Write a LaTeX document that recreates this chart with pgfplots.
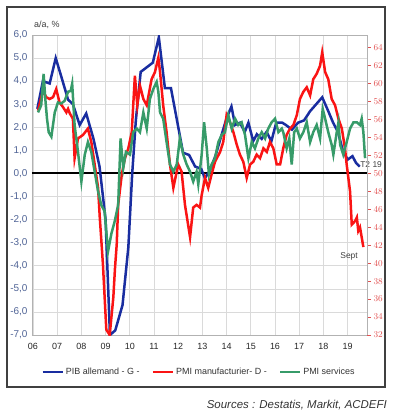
\documentclass[border=0pt]{standalone}
\usepackage{fontspec}
\setmainfont{Liberation Sans}
\usepackage{pgfplots}
\pgfplotsset{compat=1.18}
\definecolor{cblue}{RGB}{25,45,160}
\definecolor{cred}{RGB}{250,20,20}
\definecolor{cgreen}{RGB}{55,155,105}
\definecolor{ltick}{RGB}{80,100,150}
\definecolor{rtick}{RGB}{225,80,80}
\definecolor{gridc}{RGB}{218,218,218}
\begin{document}
\begin{tikzpicture}[x=1bp,y=1bp]
\useasboundingbox (0,0) rectangle (396,418);
\draw[line width=1.5bp, black!75] (7,31) rectangle (385,411);
\node[anchor=west, text=black!75, font=\fontsize{9}{10}\selectfont, inner sep=0pt] at (34,393) {a/a, \%};
\node[anchor=east, text=black!80, font=\fontsize{11.5}{13}\selectfont\itshape, inner sep=0pt] at (387,13) {Sources : Destatis, Markit, ACDEFI};
\begin{axis}[at={(32bp,83bp)}, anchor=south west, scale only axis, width=335bp, height=300bp,
  xmin=2005.96, xmax=2019.8, ymin=-7, ymax=6,
  xtick={2006,...,2019},
  xticklabels={06,07,08,09,10,11,12,13,14,15,16,17,18,19},
  ytick={-7,...,6},
  xtick pos=bottom, ytick pos=left,
  grid=major, major grid style={gridc, line width=0.6bp},
  axis line style={black!30},
  major tick length=0pt,
  xticklabel style={text=black!85, font=\fontsize{9}{10}\selectfont, yshift=-5bp},
  yticklabel style={text=ltick, font=\fontsize{10}{11}\selectfont,
    /pgf/number format/fixed, /pgf/number format/fixed zerofill,
    /pgf/number format/precision=1, /pgf/number format/use comma,
    /pgf/number format/assume math mode=true, xshift=-1bp},
  clip mode=individual,
]
\draw[black, line width=2bp] (axis cs:2005.96,0) -- (axis cs:2019.8,0);
\addplot[cblue, line width=2.5bp] coordinates {
(2006.18,2.8) (2006.41,4.0) (2006.69,3.9) (2006.94,5.0) (2007.17,4.2) (2007.45,3.2)
(2007.65,3.0) (2007.93,2.1) (2008.2,2.6) (2008.5,1.5) (2008.75,0.3) (2009.0,-2.0)
(2009.18,-7.0) (2009.4,-6.8) (2009.7,-5.7) (2009.94,-3.2) (2010.1,0.0) (2010.25,2.3)
(2010.45,4.4) (2010.7,4.6) (2010.95,4.8) (2011.2,5.9) (2011.45,3.7) (2011.7,3.7)
(2011.95,2.3) (2012.2,0.9) (2012.45,0.8) (2012.7,0.3) (2012.95,0.2) (2013.1,-0.2)
(2013.3,0.1) (2013.55,0.8) (2013.8,1.7) (2014.0,2.4) (2014.2,2.9) (2014.35,2.1)
(2014.55,2.2) (2014.75,1.8) (2014.9,2.2) (2015.1,1.4) (2015.25,1.7) (2015.45,1.5)
(2015.65,1.8) (2015.85,1.4) (2016.05,2.2) (2016.3,2.2) (2016.45,2.1) (2016.7,1.9)
(2016.95,2.2) (2017.2,2.3) (2017.45,2.7) (2017.7,3.0) (2017.95,3.3) (2018.2,2.7)
(2018.4,2.2) (2018.6,1.8) (2018.8,1.0) (2019.0,0.6) (2019.2,0.75) (2019.35,0.45)
(2019.5,0.3)
};
\node[text=black!75, font=\fontsize{8.5}{10}\selectfont] at (axis cs:2019.97,0.39) {T2 19};
\node[text=black!75, font=\fontsize{8.5}{10}\selectfont] at (axis cs:2019.06,-3.6) {Sept};
\end{axis}
\begin{axis}[at={(32bp,83bp)}, anchor=south west, scale only axis, width=335bp, height=300bp,
  xmin=2005.96, xmax=2019.8, ymin=32, ymax=65.4286,
  axis x line=none, axis y line*=right,
  axis line style={black!30, -},
  ytick={32,34,...,64},
  tick align=outside, major tick length=4bp,
  tick style={rtick, line width=0.8bp},
  yticklabel style={text=rtick, font=\fontsize{9}{10}\selectfont, xshift=-1bp},
  legend style={at={(0.4985,-0.123)}, anchor=center, legend columns=3, draw=none, fill=none,
    font=\fontsize{9}{10}\selectfont, text=black!80,
    /tikz/every even column/.append style={column sep=10bp}},
  legend image code/.code={\draw[#1] (0bp,0bp) -- (20bp,0bp);},
]
\addlegendimage{cblue, line width=2.5bp}
\addlegendentry{PIB allemand - G -}
\addplot[cred, line width=2.5bp] coordinates {
(2006.21,57.0) (2006.41,59.2) (2006.55,58.5) (2006.69,58.3) (2006.83,58.5) (2006.96,59.4)
(2007.10,57.9) (2007.24,57.4) (2007.38,56.8) (2007.45,57.2) (2007.52,56.7) (2007.65,56.1)
(2007.72,51.7) (2007.86,53.9) (2008.07,54.3) (2008.27,55.0) (2008.41,53.5) (2008.55,51.0)
(2008.69,48.4) (2008.76,45.1) (2008.89,39.9) (2009.03,32.6) (2009.17,32.0) (2009.32,36.2)
(2009.39,39.5) (2009.46,42.1) (2009.52,46.5) (2009.67,49.9) (2009.80,51.7) (2009.94,52.8)
(2010.08,54.6) (2010.21,60.9) (2010.31,57.6) (2010.42,59.8) (2010.56,58.3) (2010.70,57.6)
(2010.90,60.5) (2011.04,61.3) (2011.18,62.9) (2011.25,61.3) (2011.38,57.6) (2011.52,54.6)
(2011.66,51.0) (2011.80,48.4) (2012.00,51.0) (2012.14,50.2) (2012.28,46.5) (2012.49,42.9)
(2012.62,46.2) (2012.76,46.5) (2012.90,46.2) (2012.97,47.6) (2013.11,49.5) (2013.24,48.4)
(2013.38,49.9) (2013.52,51.3) (2013.73,52.4) (2013.86,53.5) (2014.00,56.5) (2014.14,55.7)
(2014.28,54.6) (2014.42,53.2) (2014.55,52.1) (2014.69,51.3) (2014.83,49.5) (2014.97,51.0)
(2015.10,51.3) (2015.24,52.1) (2015.38,51.7) (2015.52,52.8) (2015.66,52.4) (2015.79,53.5)
(2015.93,52.8) (2016.07,51.0) (2016.21,51.0) (2016.34,52.8) (2016.48,54.3) (2016.62,55.0)
(2016.76,55.4) (2016.90,56.5) (2017.03,58.3) (2017.17,59.1) (2017.31,59.6) (2017.45,58.7)
(2017.58,60.5) (2017.72,61.1) (2017.86,62.0) (2017.95,63.5) (2018.07,61.3) (2018.20,60.5)
(2018.34,58.3) (2018.48,57.6) (2018.62,56.1) (2018.76,55.0) (2018.89,52.8) (2018.96,51.0)
(2019.10,48.0) (2019.17,44.3) (2019.31,44.7) (2019.38,45.1) (2019.44,43.6) (2019.51,44.0)
(2019.65,41.8)
};
\addlegendentry{PMI manufacturier- D -}
\addplot[cgreen, line width=2.5bp] coordinates {
(2006.21,56.8) (2006.34,57.6) (2006.44,61.1) (2006.51,58.3) (2006.58,56.1) (2006.65,54.6)
(2006.76,54.1) (2006.90,56.8) (2007.03,57.9) (2007.17,57.8) (2007.31,58.1) (2007.45,59.1)
(2007.56,59.2) (2007.62,60.0) (2007.72,55.4) (2007.86,52.4) (2008.00,49.1) (2008.14,52.1)
(2008.27,53.5) (2008.41,52.4) (2008.55,50.2) (2008.69,48.0) (2008.82,46.5) (2008.96,45.8)
(2009.10,41.3) (2009.24,43.3) (2009.38,44.7) (2009.52,46.5) (2009.62,53.9) (2009.73,50.6)
(2009.84,52.4) (2010.01,52.1) (2010.14,54.6) (2010.29,55.0) (2010.42,54.6) (2010.56,56.8)
(2010.70,55.0) (2010.83,58.3) (2010.97,59.4) (2011.11,60.2) (2011.18,59.1) (2011.25,56.8)
(2011.38,56.1) (2011.52,53.5) (2011.66,51.0) (2011.80,50.2) (2011.94,51.0) (2012.07,53.9)
(2012.21,52.1) (2012.35,51.0) (2012.49,50.2) (2012.62,49.1) (2012.76,50.2) (2012.83,48.8)
(2012.97,52.1) (2013.07,55.7) (2013.18,52.8) (2013.27,49.9) (2013.38,51.0) (2013.52,51.7)
(2013.66,53.5) (2013.80,54.3) (2013.93,54.6) (2014.07,56.5) (2014.21,55.0) (2014.35,56.1)
(2014.48,55.4) (2014.62,55.7) (2014.76,54.3) (2014.90,51.7) (2015.04,53.5) (2015.17,52.8)
(2015.31,53.9) (2015.45,54.6) (2015.59,53.9) (2015.72,55.0) (2015.86,55.7) (2016.00,56.1)
(2016.14,54.6) (2016.28,55.0) (2016.34,54.6) (2016.48,52.8) (2016.59,53.9) (2016.69,51.0)
(2016.79,54.6) (2016.90,55.0) (2017.03,53.9) (2017.17,54.6) (2017.31,55.7) (2017.45,53.5)
(2017.58,54.6) (2017.72,55.4) (2017.86,53.9) (2017.97,57.2) (2018.07,56.1) (2018.20,54.6)
(2018.34,53.2) (2018.41,52.1) (2018.55,54.6) (2018.62,55.7) (2018.69,53.2) (2018.82,52.1)
(2018.96,53.5) (2019.10,55.0) (2019.24,55.7) (2019.38,55.7) (2019.51,55.4) (2019.58,56.1)
(2019.65,54.6) (2019.72,51.7)
};
\addlegendentry{PMI services}
\end{axis}
\end{tikzpicture}
\end{document}
